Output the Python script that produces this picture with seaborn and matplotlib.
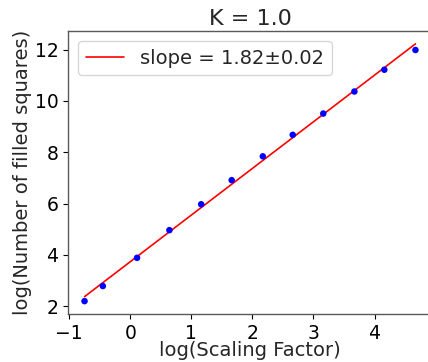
import numpy as np
import pandas as pd
import matplotlib
matplotlib.use("Agg")
import matplotlib.pyplot as plt
import seaborn as sns

# data
log_scale = [-0.75, -0.45, 0.11, 0.64, 1.16, 1.66, 2.17, 2.66, 3.16, 3.67, 4.16, 4.67]
log_filled = [2.19, 2.78, 3.88, 4.96, 5.97, 6.91, 7.84, 8.68, 9.51, 10.37, 11.22, 11.99]
fit_slope = 1.82
fit_intercept = 3.73
slope_err = 0.02
title = "K = 1.0"
xlabel = "log(Scaling Factor)"
ylabel = "log(Number of filled squares)"
xticks = [-1, 0, 1, 2, 3, 4]
yticks = [2, 4, 6, 8, 10, 12]

sns.set_style("ticks", {"axes.spines.top": True, "axes.spines.right": True})
plt.rcParams['font.family'] = ['DejaVu Sans']

fig = plt.figure(figsize=(4.28, 3.62), dpi=100)
ax = fig.add_axes([68 / 428, 1 - 314 / 362, (432 - 68) / 428, (314 - 31) / 362])

df = pd.DataFrame({"x": log_scale, "y": log_filled})
xs = np.array([min(log_scale), max(log_scale)])
fit_df = pd.DataFrame({"x": xs, "y": fit_slope * xs + fit_intercept})

sns.lineplot(data=fit_df, x="x", y="y", ax=ax, color="red", linewidth=1.2,
             label=f"slope = {fit_slope:.2f}\u00b1{slope_err:.2f}", zorder=2)
sns.scatterplot(data=df, x="x", y="y", ax=ax, color="blue", s=22,
                edgecolor="none", zorder=3)

ax.set_xticks(xticks)
ax.set_yticks(yticks)
ax.set_xticklabels(["\u22121" if t < 0 else str(t) for t in xticks])
ax.tick_params(labelsize=13.5, length=3.5, width=0.8, colors='black')
for s in ax.spines.values():
    s.set_visible(True)
    s.set_color('0.35')
    s.set_linewidth(1.0)
ax.set_xlabel(xlabel, fontsize=14, labelpad=-1)
ax.set_ylabel(ylabel, fontsize=14, labelpad=2)
ax.set_title(title, fontsize=16, pad=4)
ax.legend(loc="upper left", fontsize=14, frameon=True, handlelength=2.0)

fig.savefig("out.png", dpi=100)
